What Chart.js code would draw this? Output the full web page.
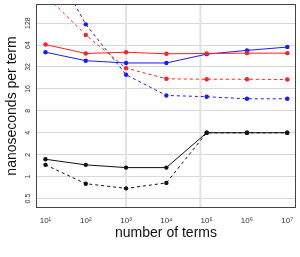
<!DOCTYPE html>
<html>
<head>
<meta charset="utf-8">
<script src="https://cdn.jsdelivr.net/npm/chart.js@4/dist/chart.umd.min.js"></script>
<style>
html,body{margin:0;padding:0;background:#fff;}
#wrap{width:300px;height:257px;}
</style>
</head>
<body>
<div id="wrap"><canvas id="c" width="300" height="257"></canvas></div>
<script>
// ---- data ----
const terms = [10, 100, 1000, 10000, 100000, 1000000, 10000000];
const redSolid   = [65, 49, 51, 48.5, 49, 49.5, 49.5];
const blueSolid  = [51, 39, 36.3, 36.3, 48, 54, 60];
const redDashed  = [310, 88, 30.8, 22, 21.7, 21.7, 21.5];
const blueDashed = [1250, 123, 25, 13, 12.5, 11.7, 11.7];
const blackSolid = [1.73, 1.45, 1.33, 1.33, 4.0, 4.0, 4.0];
const blackDashed= [1.45, 0.8, 0.69, 0.82, 4.0, 4.0, 4.0];

const xTicks = [10, 100, 1000, 10000, 100000, 1000000, 10000000];
const xTickLabels = ['10\u00b9','10\u00b2','10\u00b3','10\u2074','10\u2075','10\u2076','10\u2077'];
const yTicks = [0.5, 1, 2, 4, 8, 16, 32, 64, 128];
const yTickLabels = ['0.5','1','2','4','8','16','32','64','128'];
const gridXValues = [1000, 70000];

const xTitle = 'number of terms';
const yTitle = 'nanoseconds per term';

function pts(arr){ return terms.map((t,i)=>({x:t, y:arr[i]})); }

function ds(label, arr, color, dashed){
  return {
    label: label,
    data: pts(arr),
    borderColor: color,
    backgroundColor: color,
    pointBackgroundColor: color,
    pointBorderColor: color,
    pointBorderWidth: 0,
    pointRadius: 2.2,
    borderWidth: 1,
    borderDash: dashed ? [3,3] : [],
    tension: 0,
    fill: false,
    clip: 0
  };
}

const framePlugin = {
  id: 'frame',
  beforeDatasetsDraw(chart){
    const {ctx, chartArea:a, scales} = chart;
    ctx.save();
    ctx.strokeStyle = '#e2e2e2';
    ctx.lineWidth = 2;
    gridXValues.forEach(v=>{
      const px = scales.x.getPixelForValue(v);
      ctx.beginPath();
      ctx.moveTo(px, a.top);
      ctx.lineTo(px, a.bottom);
      ctx.stroke();
    });
    ctx.restore();
  },
  afterDatasetsDraw(chart){
    const {ctx, chartArea:a} = chart;
    ctx.save();
    ctx.strokeStyle = '#444';
    ctx.lineWidth = 1;
    ctx.strokeRect(Math.round(a.left)+0.5, Math.round(a.top)+0.5, Math.round(a.right-a.left)-1, Math.round(a.bottom-a.top)-1);
    ctx.restore();
  }
};

new Chart(document.getElementById('c'), {
  type: 'line',
  data: {
    datasets: [
      ds('red', redSolid, '#ff2020', false),
      ds('blue', blueSolid, '#1a1aff', false),
      ds('red dashed', redDashed, '#ff2020', true),
      ds('blue dashed', blueDashed, '#1a1aff', true),
      ds('black', blackSolid, '#111', false),
      ds('black dashed', blackDashed, '#111', true)
    ]
  },
  options: {
    responsive: false,
    devicePixelRatio: 1,
    animation: false,
    layout: { padding: { top: 1, right: 3, left: 0, bottom: 0 } },
    plugins: { legend: { display: false }, tooltip: { enabled: false } },
    scales: {
      x: {
        type: 'logarithmic',
        min: Math.pow(10, 0.765),
        max: Math.pow(10, 7.217),
        afterBuildTicks(s){ s.ticks = xTicks.map(v=>({value:v})); },
        afterFit(s){ s.height = 49; s.paddingLeft = 0; s.paddingRight = 0; },
        ticks: {
          callback(v){ const i = xTicks.indexOf(v); return i >= 0 ? xTickLabels[i] : ''; },
          font: { family: 'Liberation Sans', size: 8 },
          color: '#333',
          padding: 8,
          minRotation: 0, maxRotation: 0, autoSkip: false
        },
        grid: { display: false, drawTicks: false },
        border: { display: false },
        title: {
          display: true, text: xTitle,
          font: { family: 'Liberation Sans', size: 14 },
          color: '#111',
          padding: { top: 0, bottom: 15 }
        }
      },
      y: {
        type: 'logarithmic',
        min: 0.371,
        max: 234,
        afterBuildTicks(s){ s.ticks = yTicks.map(v=>({value:v})); },
        afterFit(s){ s.width = 36; s.paddingTop = 0; s.paddingBottom = 0; },
        ticks: {
          callback(v){ const i = yTicks.indexOf(v); return i >= 0 ? yTickLabels[i] : ''; },
          font: { family: 'Liberation Sans', size: 7 },
          color: '#333',
          padding: 2,
          crossAlign: 'center',
          minRotation: 90, maxRotation: 90, autoSkip: false
        },
        grid: { color: '#d8d8d8', lineWidth: 1, drawTicks: false },
        border: { display: false },
        title: {
          display: true, text: yTitle,
          font: { family: 'Liberation Sans', size: 14 },
          color: '#111',
          padding: { top: 3.5, bottom: 0 }
        }
      }
    }
  },
  plugins: [framePlugin]
});
</script>
</body>
</html>
